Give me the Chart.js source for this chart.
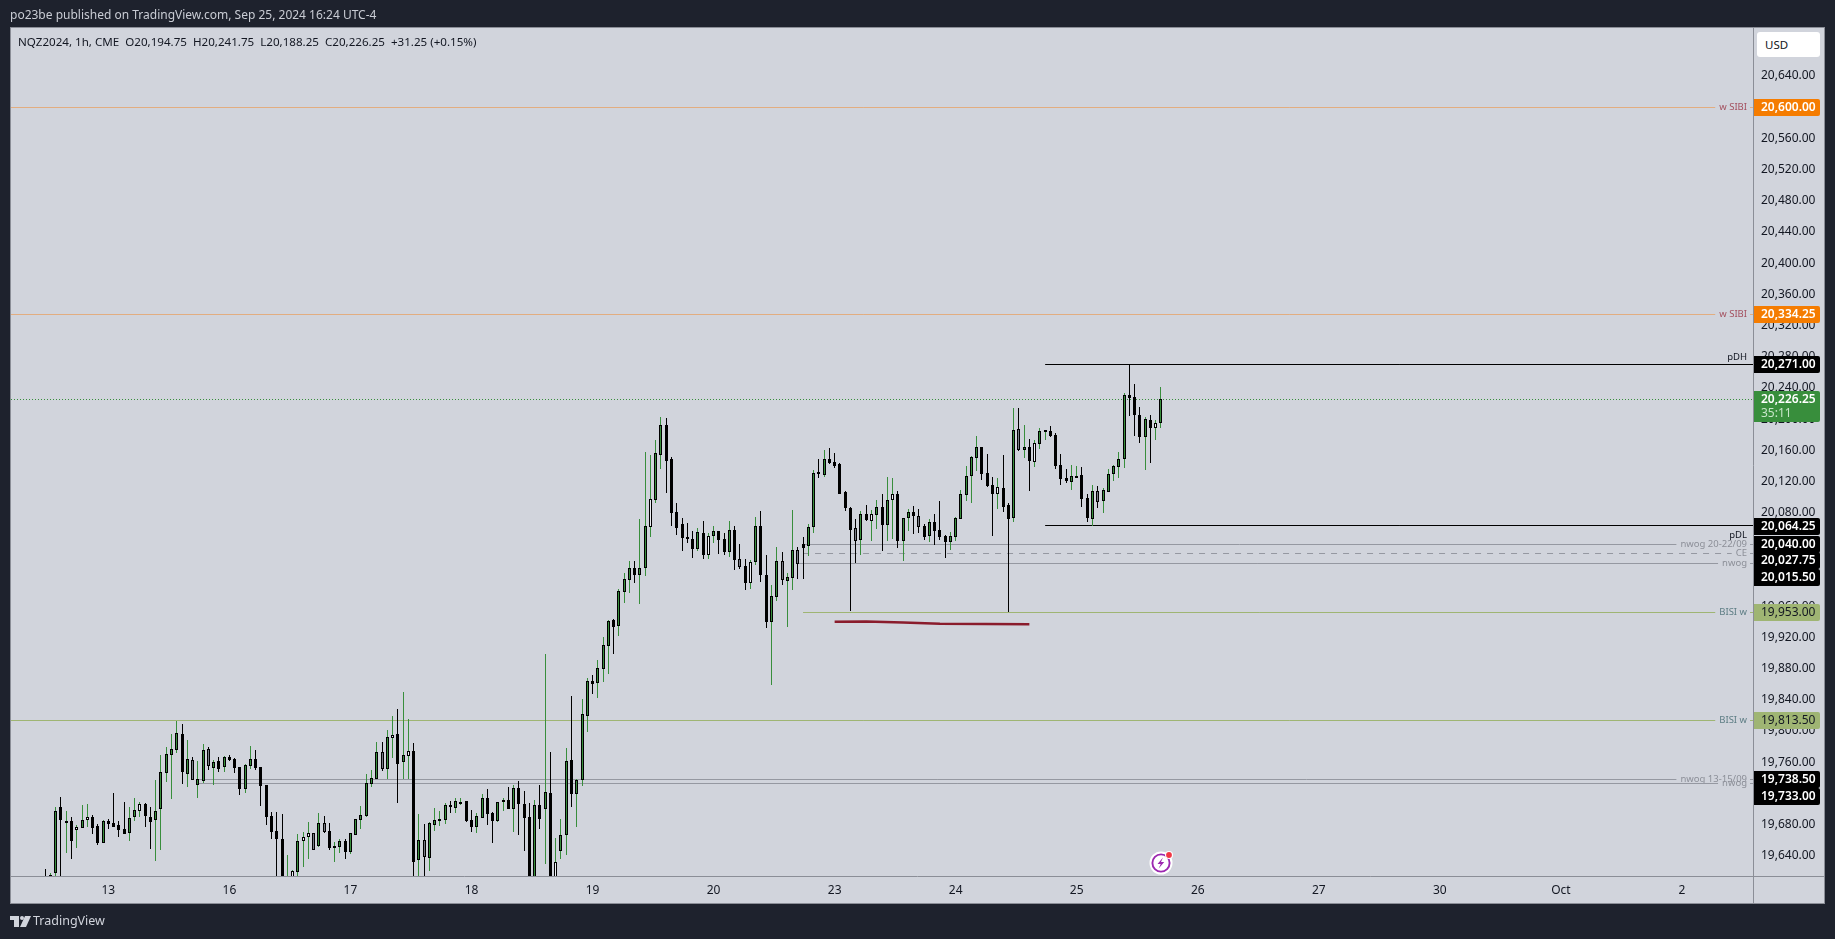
<!DOCTYPE html>
<html>
<head>
<meta charset="utf-8">
<title>NQZ2024</title>
<script src="https://cdn.jsdelivr.net/npm/chart.js@4"></script>
<style>
  html, body { margin: 0; padding: 0; background: #1e222d; width: 1835px; height: 939px; overflow: hidden; }
  canvas { position: absolute; left: 0; top: 0; }
  .txt { position: absolute; font-family: "Noto Sans", sans-serif; white-space: pre; }
  #published { left: 10px; top: 7px; font-size: 12px; line-height: 16px; color: #c9ccd4; }
  #legend { left: 18px; top: 34px; font-size: 11.6px; line-height: 16px; color: #131722; }
  #usd { left: 1757px; top: 32px; width: 55px; height: 25px; padding-left: 8px; background: #fff; border-radius: 3px; font-size: 11.5px; line-height: 25px; color: #131722; }
  #brand { left: 33px; top: 911px; font-size: 12.5px; line-height: 20px; color: #d1d4dc; }
  #logo { position: absolute; left: 10px; top: 916px; }
  #bolt { position: absolute; left: 1149px; top: 849px; }
</style>
</head>
<body>
<canvas id="chart" width="1835" height="939"></canvas>
<div class="txt" id="published">po23be published on TradingView.com, Sep 25, 2024 16:24 UTC-4</div>
<div class="txt" id="legend">NQZ2024, 1h, CME  O20,194.75  H20,241.75  L20,188.25  C20,226.25  +31.25 (+0.15%)</div>
<div class="txt" id="usd">USD</div>
<div class="txt" id="brand">TradingView</div>
<svg id="logo" width="21" height="11" viewBox="0 0 21 11"><path d="M0 0h9v11H4V4H0z" fill="#d1d4dc"/><circle cx="12" cy="2" r="2" fill="#d1d4dc"/><path d="M15 0h6l-5 11h-6z" fill="#d1d4dc"/></svg>
<svg id="bolt" width="26" height="26" viewBox="0 0 26 26">
  <circle cx="12" cy="14" r="11.5" fill="#fff"/>
  <circle cx="12" cy="14" r="8.6" fill="none" stroke="#9c27b0" stroke-width="1.9"/>
  <path d="M14 8.5l-5.5 6.5h3.2l-2 4.5 5.5-6.5h-3.2z" fill="#9c27b0"/>
  <circle cx="20" cy="6" r="4" fill="#fff"/>
  <circle cx="20" cy="6" r="2.9" fill="#f23645"/>
</svg>
<script>
// hourly bars
var opens = [
  19605,19614.7,19618.3,19702.5,19684,19684.1,19673.4,19676,19686.3,19689.7,
  19678.1,19656.8,19684.5,19681.5,19679,19673.8,19669.6,19690.1,19697.8,19705.9,
  19689.7,19686.3,19700.4,19746.5,19769.6,19776,19795.7,19745.2,19762.3,19731.1,
  19735.4,19776.5,19752.9,19761,19754.2,19766.2,19763.6,19753.4,19726,19755.5,
  19763.6,19753.4,19730.3,19691,19671.3,19661.5,19590,19605,19619.6,19659.3,
  19664.5,19668.7,19652.9,19681.5,19671.3,19650.3,19651.6,19658.5,19645.2,19667,
  19686.3,19690.9,19732.4,19738.8,19772.6,19751.7,19791.4,19795.7,19759.8,19768.3,
  19773.9,19634.1,19659.8,19637.5,19679.8,19686.6,19685.8,19705.1,19701.6,19709.2,
  19710.2,19685.4,19677.3,19688.8,19713.6,19694.4,19685,19708.5,19711,19700.4,
  19726.4,19706.8,19689.2,19590,19704.6,19700.4,19720,19600,19646.5,19666.2,
  19762.3,19719.6,19737.6,19819.6,19863.7,19862,19879.9,19909.4,19942.4,19935.1,
  19978.7,19994.1,20008.6,20000.5,20009.5,20062,20096.7,20154.4,20192,20148.4,
  20080.4,20065,20048.5,20045.8,20033.8,20053.5,20026.1,20050.5,20056.1,20045.8,
  20030,20057.3,20020.2,20011.2,19990.2,20017.2,20062.5,19999.6,19940.2,19972.3,
  20017.6,19992.8,19996.6,20031.7,20039.4,20036.8,20062,20131.8,20128.7,20148.4,
  20144.6,20142,20106.1,20085.5,20059.9,20045.4,20077.8,20069.7,20077.4,20086.8,
  20064.6,20095.8,20103.5,20044.1,20072.7,20080.4,20075.3,20062.5,20050.5,20067.6,
  20057.3,20049.6,20042.8,20049.2,20072.3,20103.1,20127.4,20150.5,20163.8,20130.4,
  20115,20104.3,20111.2,20089.4,20072.7,20186.9,20160.8,20163.8,20145.4,20168.5,
  20183,20184.3,20179.2,20140.7,20124,20119.7,20127.3,20127.9,20098.4,20072.3,
  20107.3,20095.4,20106.9,20130,20139,20148.4,20230.5,20227.9,20204.8,20177.4,
  20198.4,20189,20194.75
];
var highs = [
  19623,19618,19702.5,19715.3,19697.4,19689.7,19679.4,19705.1,19706.3,19692.2,
  19680.3,19685.8,19687.1,19720.5,19684.5,19708.9,19702.5,19714,19708.9,19707.2,
  19702.5,19737.1,19769.2,19779,19796.1,19812.4,19809,19788.4,19766.2,19761.5,
  19783.3,19779,19762.8,19766.2,19767.5,19769.2,19765.3,19753.8,19757.6,19780.7,
  19775.6,19753.4,19731.1,19696.1,19696.1,19693.5,19641,19621.7,19667.9,19670.4,
  19683.3,19669.6,19694.4,19691,19681.5,19658,19661,19661,19669.6,19687.5,
  19703.8,19744.8,19750,19785.9,19785.9,19801.3,19819.2,19828.2,19850,19815,
  19784.2,19693.5,19680.7,19682.8,19701.2,19697.8,19708,19710.6,19714,19714,
  19710.2,19698.6,19694.4,19719.2,19725.6,19696.1,19709.3,19714,19728.2,19730.7,
  19735.8,19723,19707.2,19711.5,19730.7,19898.7,19773,19662.7,19687.1,19778.2,
  19844.9,19738,19841,19868,19871.8,19891,19920.5,19942.4,19943.6,19982.1,
  20002.6,20017.6,20017.6,20071.9,20157.8,20154,20172.8,20202.7,20201.4,20151,
  20092.4,20073.2,20066.8,20056.5,20060.3,20069.3,20053.5,20062.9,20056.5,20053.9,
  20069.3,20062.9,20039.8,20020.6,20019.3,20074.5,20082.1,20025.7,19987.2,20036,
  20029.6,20002.6,20083.4,20036,20048.8,20065.5,20134.7,20148.4,20160.4,20162.9,
  20156.5,20143.3,20107.4,20086.8,20071.9,20081.7,20089.8,20083.4,20096.2,20103.9,
  20125.7,20124.4,20107.8,20072.7,20084.7,20088.5,20084.7,20065,20071.9,20078.3,
  20094.9,20050.9,20055.2,20074,20109,20139.8,20152.7,20178.3,20163.8,20155.2,
  20125.7,20124.4,20153.9,20091.9,20214.2,20214.2,20192.4,20174.5,20173.2,20188.1,
  20186,20191.1,20181.7,20155.2,20135.6,20141.1,20139.8,20138.6,20103.9,20115.5,
  20114.2,20111.2,20136,20141.1,20157.8,20233.5,20271,20245,20215.5,20202.2,
  20205.2,20198.8,20241.75
];
var lows = [
  19585,19608,19614,19600,19643.9,19636.2,19650.3,19676,19676.8,19668.3,
  19654.2,19656.8,19674.7,19677.3,19664.5,19668.3,19659.3,19685,19690.1,19677.3,
  19649,19633.7,19647.8,19735,19713.2,19772.2,19732.4,19728.6,19736.7,19714.5,
  19733.3,19750.4,19731.1,19747.8,19747.8,19761,19746.5,19718.3,19720.9,19751.7,
  19750.4,19704.2,19679.8,19661.9,19600,19580,19580,19600,19613.6,19626,
  19635.8,19647.8,19651.6,19668.7,19647.3,19632,19643.9,19636.2,19642.2,19667,
  19674.7,19689.7,19727.7,19738.8,19749.1,19738.8,19765.3,19708,19738.8,19738.8,
  19600,19600,19600,19620.8,19671.7,19678.6,19680.3,19695.2,19695.2,19705.1,
  19683.3,19670.4,19669.6,19688.8,19679.8,19656.8,19682.8,19697.8,19700.4,19670.9,
  19667,19646.5,19580,19585,19673.9,19629.8,19580,19590,19636.2,19641,
  19703,19677.3,19729.4,19799.1,19847.8,19842.7,19862.8,19873.5,19899.2,19922.3,
  19964.6,19977.4,19990.2,19963.3,19999.2,20049.2,20092.8,20136,20105.7,20062.9,
  20051.8,20031.3,20041.5,20022.3,20031.3,20021,20021,20041.5,20027.4,20026.1,
  20023.6,20006.9,20008.2,19981.3,19982.5,20013.3,19991.5,19932.5,19859.4,19967.1,
  19987.7,19933.8,19981.3,19995.4,19995.4,20024.9,20054.4,20124.9,20126.2,20142.8,
  20137.7,20104.4,20082.6,19954.3,20015.9,20026.1,20069.7,20044.1,20059.5,20031.2,
  20044.1,20046.6,20035.1,20018.4,20056.5,20052.6,20054.3,20045.4,20042.8,20038.9,
  20045.4,20022.3,20032.5,20044.1,20072.3,20095.4,20092.8,20133.8,20122.3,20112.9,
  20050.5,20085.1,20081.3,19953,20068.4,20159.5,20150.5,20108.2,20139,20162.1,
  20173.2,20177.4,20136.4,20115.9,20118.5,20109.5,20124.9,20087.7,20068.4,20062.5,
  20086.4,20080,20106.9,20121,20124.9,20137.7,20204.4,20178.7,20169.8,20135.1,
  20144.1,20173.6,20188.25
];
var closes = [
  19595,19615,19697.4,19686.3,19684.2,19658.5,19676.4,19685.4,19689.2,19676,
  19656.8,19684.1,19681.1,19677.3,19673.4,19668.3,19688,19698.2,19705.9,19691.4,
  19683.7,19697,19747,19770,19776.5,19797,19747.8,19763.6,19736.7,19738,
  19775.2,19755.5,19759.8,19751.7,19766.2,19762.8,19752.9,19726,19755.9,19763.6,
  19752.9,19729.9,19690.1,19670.9,19661.9,19590,19605,19620,19658.5,19663.6,
  19668.7,19647.8,19681.5,19670.4,19650.3,19652,19658.5,19644.8,19668.7,19686.7,
  19691.8,19732.9,19739.3,19772.6,19751.7,19791.8,19794.4,19758.1,19768.8,19773.9,
  19632.4,19659.8,19638.8,19681.5,19685.4,19686.8,19704.6,19703,19709.8,19709.4,
  19684.5,19677.3,19690.5,19713.6,19694,19685,19708.5,19711,19700.4,19726.4,
  19706.8,19688.8,19590,19704.6,19687.5,19721.3,19590,19631.5,19666.2,19761,
  19719.6,19736.7,19821.3,19863.7,19860.7,19880.4,19909.9,19941.1,19933.8,19979.1,
  19994.5,20008.6,20000.5,20008.6,20062.5,20097.1,20156.1,20192,20146.7,20080,
  20060.3,20047.9,20048.3,20033.8,20054.8,20026.1,20049.7,20056.1,20045.4,20030,
  20057.3,20019.7,20010.7,19990.2,20016.3,20062.5,20000.5,19940.2,19972.7,20017.6,
  19994.1,19997.1,20031.7,20013.7,20035.1,20061.2,20130.5,20131.6,20148.4,20144.1,
  20139.9,20104.4,20085.6,20058.2,20044.1,20077.8,20071,20077.8,20086.8,20064.6,
  20095.8,20103.5,20044.1,20072.7,20080.4,20075.3,20062,20049.2,20067.6,20056.9,
  20049.2,20042.8,20049.6,20072.7,20103.5,20126.6,20150.9,20163.8,20130,20114.2,
  20104.3,20112.5,20087.7,20072.3,20185.6,20160.8,20163.8,20146.7,20168.9,20184.3,
  20185.6,20178.7,20140.3,20123.6,20121,20126.6,20127.5,20097.9,20072.7,20107.3,
  20094.1,20108.6,20129.1,20139.4,20148.4,20230.5,20227.5,20205.7,20177.4,20199.7,
  20189,20194.6,20226.25
];

// bars whose body is not the plain green / black
var hollowBars = [6,8,18,47,49,50,66,69,97,115,126,134,157,161,181,188,190,211];
var greyBars = [28,31,51,53,64,72,132,140,143,154,166,185,200];

// time axis
var dayLabels = ['13','16','17','18','19','20','23','24','25','26','27','30','Oct','2'];

// price axis
var priceTicks = [];
for (var p = 19640; p <= 20640; p += 40) priceTicks.push(p);

// horizontal levels
var levelPrices = [20600,20334.25,20271,20064.25,20040,20027.75,20015.5,19953,19813.5,19738.5,19733];
var levelNames = ['w SIBI','w SIBI','pDH','pDL','nwog 20-22/09','CE','nwog','BISI w','BISI w','nwog 13-15/09','nwog'];
var levelStartBars = [null,null,190,190,144,144,143,144,null,29,29];

var lastPrice = 20226.25;
var countdown = '35:11';

// red hand drawn line under the two lows
var markerBars = [150,156,163,170,187];
var markerPrices = [19940,19940.5,19939,19937.5,19937];

// ---- styles ----
var levelStyles = {
  'w SIBI': { line: '#e2ad80', text: '#a4505f', tag: '#f57c00', tagText: '#ffffff' },
  'pDH': { line: '#000000', text: '#131722', tag: '#000000', tagText: '#ffffff', above: true },
  'pDL': { line: '#000000', text: '#131722', tag: '#000000', tagText: '#ffffff', below: true },
  'nwog': { line: '#9598a1', text: '#8c8f98', tag: '#000000', tagText: '#ffffff' },
  'CE': { line: '#9598a1', text: '#8c8f98', tag: '#000000', tagText: '#ffffff', dash: [6, 6] },
  'BISI w': { line: '#9fb573', text: '#5d7d84', tag: '#9fb573', tagText: '#131722' }
};
// tags pushed down so that they do not sit on top of each other
var tagShifts = { 5: 7, 6: 14, 10: 13, 3: 1 };

var padSlots = 6;      // empty slots left of the first bar
var totalSlots = 331;
var firstDayBar = 12;
var barsPerDay = 23;
var UP = '#388e3c', FONT = '"Noto Sans", sans-serif';

var slots = [];
for (var i = 0; i < totalSlots; i++) slots.push('');
dayLabels.forEach(function (d, k) { slots[padSlots + firstDayBar + k * barsPerDay] = d; });

var wicks = slots.map(function (s, i) {
  var k = i - padSlots;
  return k >= 0 && k < highs.length ? [lows[k], highs[k]] : null;
});
var bodies = slots.map(function (s, i) {
  var k = i - padSlots;
  return k >= 0 && k < opens.length ? [Math.min(opens[k], closes[k]), Math.max(opens[k], closes[k])] : null;
});
var marker = slots.map(function () { return null; });
markerBars.forEach(function (b, k) { marker[b + padSlots] = markerPrices[k]; });

function wickColor(ctx) {
  var k = ctx.dataIndex - padSlots;
  return closes[k] >= opens[k] ? UP : '#000000';
}
function bodyColor(ctx) {
  var k = ctx.dataIndex - padSlots;
  if (hollowBars.indexOf(k) >= 0) return '#eef0f5';
  if (greyBars.indexOf(k) >= 0) return '#787b86';
  return closes[k] >= opens[k] ? UP : '#000000';
}
function money(v) {
  return v.toLocaleString('en-US', { minimumFractionDigits: 2, maximumFractionDigits: 2 });
}

// candles on whole pixels, like the original
var snapBars = {
  id: 'snapBars',
  beforeDatasetsDraw: function (chart) {
    [0, 1].forEach(function (d) {
      chart.getDatasetMeta(d).data.forEach(function (el) {
        if (isNaN(el.x) || isNaN(el.y)) return;
        el.x = Math.floor(el.x) + 0.5;
        el.y = Math.round(el.y);
        el.base = Math.round(el.base);
        if (d == 1 && el.base - el.y < 2) el.base = el.y + 2;
      });
    });
  }
};

var panel = {
  id: 'panel',
  beforeDraw: function (chart) {
    var c = chart.ctx;
    c.save();
    c.fillStyle = '#d1d4dc';
    c.fillRect(11, 28, 1813, 875);
    c.restore();
  },
  beforeDatasetsDraw: function (chart) {
    var c = chart.ctx, a = chart.chartArea, y = chart.scales.y, x = chart.scales.x;
    c.save();
    c.font = '9.5px ' + FONT;
    c.textBaseline = 'middle';
    levelPrices.forEach(function (v, i) {
      var name = levelNames[i];
      var st = levelStyles[name.split(' ')[0] == 'nwog' ? 'nwog' : name];
      var py = Math.round(y.getPixelForValue(v)) + 0.5;
      var left = levelStartBars[i] === null ? a.left : x.getPixelForValue(levelStartBars[i] + padSlots);
      var textW = c.measureText(name).width;
      var inLine = !st.above && !st.below;
      var end = inLine ? a.right - 6 - textW - 4 : a.right;
      c.strokeStyle = st.line;
      c.lineWidth = 1;
      c.setLineDash(st.dash || []);
      c.beginPath();
      c.moveTo(left, py);
      c.lineTo(end, py);
      if (inLine) { c.moveTo(a.right - 3, py); c.lineTo(a.right, py); }
      c.stroke();
      c.setLineDash([]);
      c.fillStyle = st.text;
      c.textAlign = 'right';
      c.fillText(name, a.right - 6, st.above ? py - 7 : st.below ? py + 10 : py);
    });
    // last price
    var ly = Math.round(y.getPixelForValue(lastPrice)) + 0.5;
    c.strokeStyle = UP;
    c.setLineDash([1, 2]);
    c.beginPath();
    c.moveTo(a.left, ly);
    c.lineTo(a.right, ly);
    c.stroke();
    c.restore();
  },
  afterDraw: function (chart) {
    var c = chart.ctx, a = chart.chartArea, y = chart.scales.y;
    c.save();
    c.strokeStyle = '#8b8e97';
    c.lineWidth = 1;
    c.strokeRect(10.5, 27.5, 1814, 876);
    c.beginPath();
    c.moveTo(a.right + 0.5, 28);
    c.lineTo(a.right + 0.5, 903);
    c.moveTo(11, a.bottom + 0.5);
    c.lineTo(1824, a.bottom + 0.5);
    c.stroke();
    c.textAlign = 'left';
    c.textBaseline = 'middle';
    levelPrices.forEach(function (v, i) {
      var name = levelNames[i];
      var st = levelStyles[name.split(' ')[0] == 'nwog' ? 'nwog' : name];
      var py = Math.round(y.getPixelForValue(v)) + (tagShifts[i] || 0);
      c.fillStyle = st.tag;
      c.beginPath();
      c.roundRect(a.right + 1, py - 8, 66, 17, [0, 2, 2, 0]);
      c.fill();
      c.fillStyle = st.tagText;
      c.font = (st.tagText == '#131722' ? '' : '600 ') + '12px ' + FONT;
      c.fillText(money(v), 1761, py + 0.5);
    });
    var ly = Math.round(y.getPixelForValue(lastPrice));
    c.fillStyle = UP;
    c.beginPath();
    c.roundRect(a.right + 1, ly - 8, 66, 31, [0, 2, 2, 0]);
    c.fill();
    c.fillStyle = '#ffffff';
    c.font = '600 12px ' + FONT;
    c.fillText(money(lastPrice), 1761, ly + 0.5);
    c.fillStyle = '#c8e6c9';
    c.font = '12px ' + FONT;
    c.fillText(countdown, 1761, ly + 15);
    c.restore();
  }
};

new Chart(document.getElementById('chart'), {
  type: 'bar',
  data: {
    labels: slots,
    datasets: [
      {
        data: wicks,
        grouped: false,
        barThickness: 1,
        backgroundColor: wickColor,
        borderWidth: 0,
        inflateAmount: 0,
        order: 3
      },
      {
        data: bodies,
        grouped: false,
        barThickness: 3,
        backgroundColor: bodyColor,
        borderColor: '#000000',
        borderWidth: 1,
        borderSkipped: false,
        inflateAmount: 0,
        order: 2
      },
      {
        type: 'line',
        data: marker,
        spanGaps: true,
        borderColor: '#8a1c2c',
        borderWidth: 2.5,
        pointRadius: 0,
        tension: 0,
        order: 1
      }
    ]
  },
  options: {
    responsive: false,
    devicePixelRatio: 1,
    animation: false,
    events: [],
    layout: { padding: { left: 11, top: 28, right: 11, bottom: 36 } },
    plugins: { legend: { display: false }, tooltip: { enabled: false } },
    scales: {
      x: {
        type: 'category',
        offset: true,
        grid: { display: false, drawTicks: false },
        border: { display: false },
        afterBuildTicks: function (axis) {
          axis.ticks = axis.ticks.filter(function (t) { return slots[t.value] !== ''; });
        },
        afterFit: function (axis) { axis.height = 27; },
        ticks: {
          autoSkip: false,
          maxRotation: 0,
          padding: 7,
          color: '#131722',
          font: { family: FONT, size: 12 }
        }
      },
      y: {
        position: 'right',
        min: 19614,
        max: 20701.6,
        grid: { display: false, drawTicks: false },
        border: { display: false },
        afterBuildTicks: function (axis) {
          axis.ticks = priceTicks.map(function (v) { return { value: v }; });
        },
        afterFit: function (axis) { axis.width = 71; },
        ticks: {
          padding: 8,
          color: '#131722',
          font: { family: FONT, size: 12 },
          callback: function (v) { return money(v); }
        }
      }
    }
  },
  plugins: [panel, snapBars]
});
</script>
</body>
</html>
